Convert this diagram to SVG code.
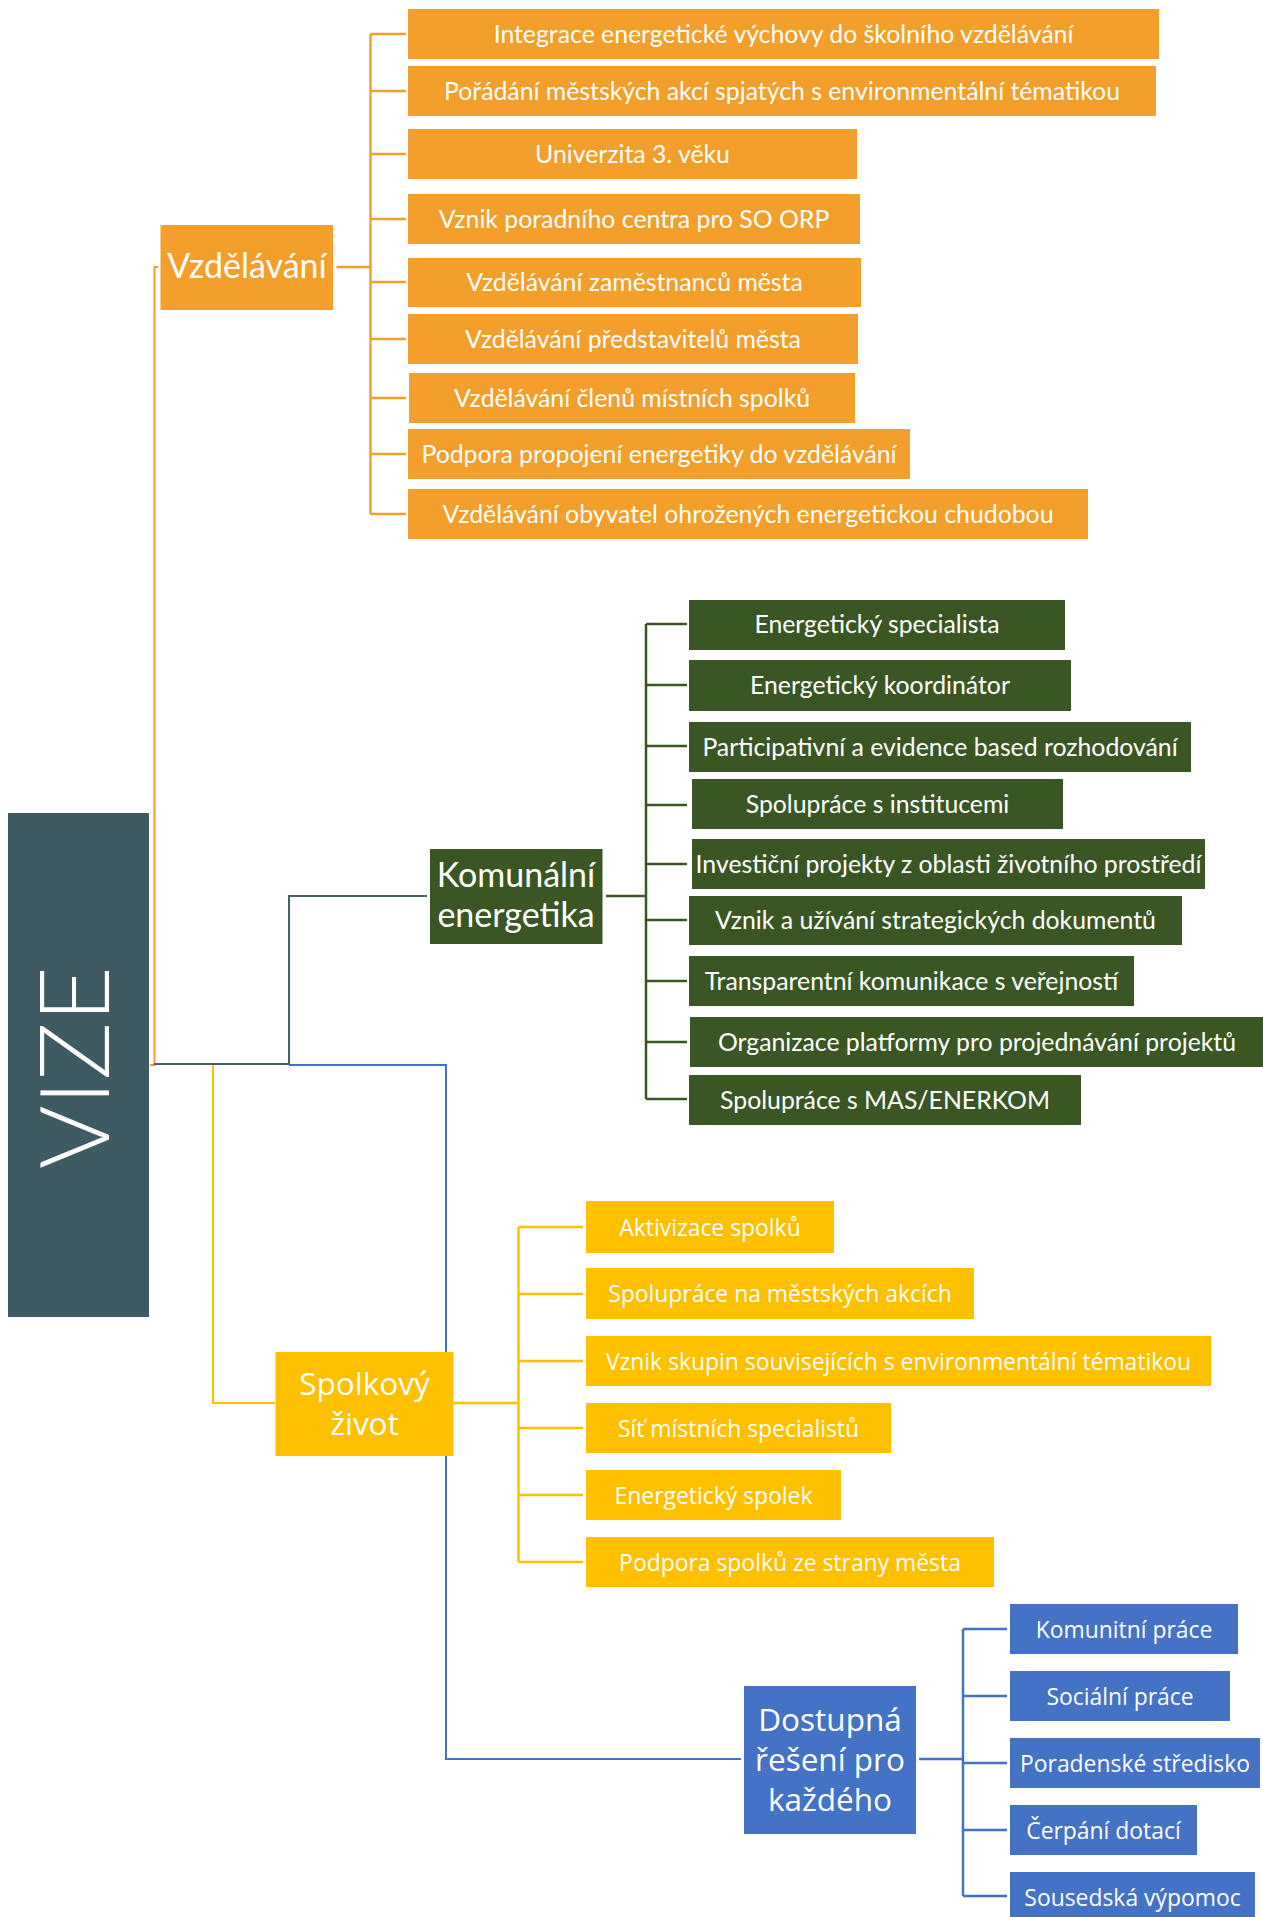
<svg xmlns="http://www.w3.org/2000/svg" width="1263" height="1917" viewBox="0 0 1263 1917">
<style>
  .bg { fill: #ffffff; }
  .root { fill: #3E5B64; }
  .or { fill: #F49F2B; }
  .gr { fill: #3A5723; }
  .ye { fill: #FFC000; }
  .bl { fill: #4472C4; }
  .t1 { font-family: Lato, "Liberation Sans", sans-serif; font-size: 24.8px; fill: #ffffff; text-anchor: middle; }
  .t2 { font-family: "Open Sans", "Noto Sans", sans-serif; font-size: 22.9px; fill: #ffffff; text-anchor: middle; }
  .h1 { font-family: Lato, "Liberation Sans", sans-serif; font-size: 34px; fill: #ffffff; text-anchor: middle; }
  .h2 { font-family: "Open Sans", "Noto Sans", sans-serif; font-size: 31.5px; fill: #ffffff; text-anchor: middle; }
  .vize { font-family: Lato, "Liberation Sans", sans-serif; font-weight: 300; font-size: 97px; fill: #ffffff; text-anchor: middle; }
  .c { fill: none; stroke-width: 2.5; }
  .m { fill: none; stroke-width: 2; }
  .co { stroke: #F49F2B; }
  .cg { stroke: #3A5723; }
  .cy { stroke: #FFC000; }
  .cb { stroke: #4472C4; }
  .cs { stroke: #44606A; }
</style>
<rect class="bg" x="0" y="0" width="1263" height="1917"/>

<g id="connectors">
  <path class="m cy" d="M213,1065 V1403 H275"/>
  <path class="m cb" d="M289,1065 H446 V1759 H741"/>
  <path class="m co" d="M150,1065 H154.5 V267 H158"/>
  <path class="m cs" d="M154,1064 H289 V896 H427"/>
  <path class="c co" d="M336.5,267 H370.5 M370.5,34 V514 M370.5,34 H406 M370.5,91 H406 M370.5,154 H406 M370.5,219 H406 M370.5,282 H406 M370.5,339 H406 M370.5,398 H406 M370.5,454 H406 M370.5,514 H406"/>
  <path class="c cg" d="M606,896 H646 M646,624 V1099 M646,624 H687 M646,685 H687 M646,746 H687 M646,805 H687 M646,864 H687 M646,920 H687 M646,981 H687 M646,1042 H687 M646,1099 H687"/>
  <path class="c cy" d="M453.5,1403 H518.5 M518.5,1227 V1562 M518.5,1227 H583 M518.5,1294 H583 M518.5,1361 H583 M518.5,1428 H583 M518.5,1495 H583 M518.5,1562 H583"/>
  <path class="c cb" d="M919,1759 H963 M963,1629 V1896 M963,1629 H1007 M963,1696 H1007 M963,1763 H1007 M963,1830 H1007 M963,1896 H1007"/>
</g>

<g id="vize">
  <rect class="root" x="8" y="813" width="141" height="504"/>
  <text class="vize" transform="translate(109,1067.5) rotate(-90)" x="0" y="0">VIZE</text>
</g>

<g id="vzdelavani">
  <rect class="or" x="160.5" y="225" width="172.5" height="85"/>
  <text class="h1" x="247" y="278">Vzdělávání</text>
</g>
<g id="o1"><rect class="or" x="408" y="9" width="751" height="50"/><text class="t1" x="783.5" y="42.5">Integrace energetické výchovy do školního vzdělávání</text></g>
<g id="o2"><rect class="or" x="408" y="66" width="748" height="50"/><text class="t1" x="782" y="99.5">Pořádání městských akcí spjatých s environmentální tématikou</text></g>
<g id="o3"><rect class="or" x="408" y="129" width="449" height="50"/><text class="t1" x="632.5" y="162.5">Univerzita 3. věku</text></g>
<g id="o4"><rect class="or" x="408" y="194" width="452" height="50"/><text class="t1" x="634" y="227.5">Vznik poradního centra pro SO ORP</text></g>
<g id="o5"><rect class="or" x="408" y="258" width="453" height="49"/><text class="t1" x="634.5" y="291">Vzdělávání zaměstnanců města</text></g>
<g id="o6"><rect class="or" x="408" y="314" width="450" height="50"/><text class="t1" x="633" y="347.5">Vzdělávání představitelů města</text></g>
<g id="o7"><rect class="or" x="409" y="373" width="446" height="50"/><text class="t1" x="632" y="406.5">Vzdělávání členů místních spolků</text></g>
<g id="o8"><rect class="or" x="408" y="429" width="502" height="50"/><text class="t1" x="659" y="462.5">Podpora propojení energetiky do vzdělávání</text></g>
<g id="o9"><rect class="or" x="408" y="489" width="680" height="50"/><text class="t1" x="748" y="522.5">Vzdělávání obyvatel ohrožených energetickou chudobou</text></g>

<g id="komunalni">
  <rect class="gr" x="430" y="849" width="172.5" height="95"/>
  <text class="h1" x="516" y="887">Komunální</text>
  <text class="h1" x="516" y="927">energetika</text>
</g>
<g id="g1"><rect class="gr" x="689" y="600" width="376" height="50"/><text class="t1" x="877" y="633">Energetický specialista</text></g>
<g id="g2"><rect class="gr" x="689" y="660" width="382" height="51"/><text class="t1" x="880" y="694">Energetický koordinátor</text></g>
<g id="g3"><rect class="gr" x="689" y="722" width="502" height="50"/><text class="t1" x="940" y="755.5">Participativní a evidence based rozhodování</text></g>
<g id="g4"><rect class="gr" x="692" y="779" width="371" height="50"/><text class="t1" x="877.5" y="812.5">Spolupráce s institucemi</text></g>
<g id="g5"><rect class="gr" x="692" y="839" width="513" height="50"/><text class="t1" x="948.5" y="872.5">Investiční projekty z oblasti životního prostředí</text></g>
<g id="g6"><rect class="gr" x="689" y="896" width="493" height="49"/><text class="t1" x="935.5" y="929">Vznik a užívání strategických dokumentů</text></g>
<g id="g7"><rect class="gr" x="689" y="956" width="445" height="50"/><text class="t1" x="911.5" y="989.5">Transparentní komunikace s veřejností</text></g>
<g id="g8"><rect class="gr" x="690" y="1017" width="580" height="50"/><text class="t1" x="977" y="1050.5">Organizace platformy pro projednávání projektů</text></g>
<g id="g9"><rect class="gr" x="689" y="1075" width="392" height="50"/><text class="t1" x="885" y="1108.5">Spolupráce s MAS/ENERKOM</text></g>

<g id="spolkovy">
  <rect class="ye" x="275.5" y="1352" width="178" height="104"/>
  <text class="h2" x="364.5" y="1395">Spolkový</text>
  <text class="h2" x="364.5" y="1435">život</text>
</g>
<g id="y1"><rect class="ye" x="586" y="1201" width="248" height="52"/><text class="t2" x="710" y="1235.5">Aktivizace spolků</text></g>
<g id="y2"><rect class="ye" x="586" y="1268" width="388" height="51"/><text class="t2" x="780" y="1302">Spolupráce na městských akcích</text></g>
<g id="y3"><rect class="ye" x="586" y="1336" width="625" height="50"/><text class="t2" x="898.5" y="1369.5">Vznik skupin souvisejících s environmentální tématikou</text></g>
<g id="y4"><rect class="ye" x="586" y="1403" width="305" height="50"/><text class="t2" x="738.5" y="1436.5">Síť místních specialistů</text></g>
<g id="y5"><rect class="ye" x="586" y="1470" width="255" height="50"/><text class="t2" x="713.5" y="1503.5">Energetický spolek</text></g>
<g id="y6"><rect class="ye" x="586" y="1537" width="408" height="50"/><text class="t2" x="790" y="1570.5">Podpora spolků ze strany města</text></g>

<g id="dostupna">
  <rect class="bl" x="744" y="1686" width="172" height="148"/>
  <text class="h2" x="830" y="1731">Dostupná</text>
  <text class="h2" x="830" y="1771">řešení pro</text>
  <text class="h2" x="830" y="1811">každého</text>
</g>
<g id="b1"><rect class="bl" x="1010" y="1604" width="228" height="50"/><text class="t2" x="1124" y="1637.5">Komunitní práce</text></g>
<g id="b2"><rect class="bl" x="1010" y="1671" width="220" height="50"/><text class="t2" x="1120" y="1704.5">Sociální práce</text></g>
<g id="b3"><rect class="bl" x="1010" y="1738" width="250" height="50"/><text class="t2" x="1135" y="1771.5">Poradenské středisko</text></g>
<g id="b4"><rect class="bl" x="1010" y="1805" width="187" height="50"/><text class="t2" x="1103.5" y="1838.5">Čerpání dotací</text></g>
<g id="b5"><rect class="bl" x="1010" y="1872" width="245" height="50"/><text class="t2" x="1132.5" y="1905.5">Sousedská výpomoc</text></g>
</svg>
